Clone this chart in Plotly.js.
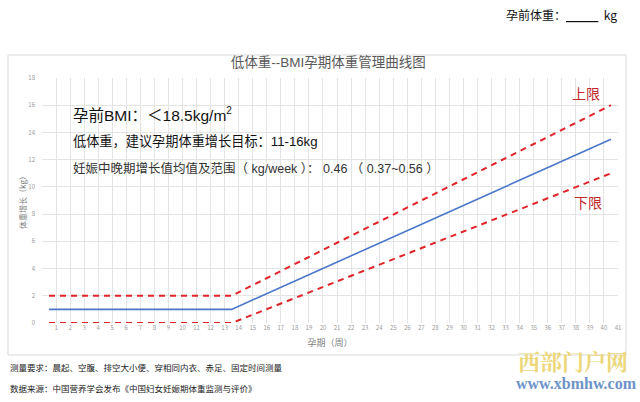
<!DOCTYPE html>
<html>
<head>
<meta charset="utf-8">
<script src="https://cdn.plot.ly/plotly-3.0.1.min.js"></script>
<style>
  html, body { margin: 0; padding: 0; background: #fff; }
  #chart { width: 640px; height: 402px; }
</style>
</head>
<body>
<div id="chart"></div>
<script>
// weeks where the lines bend (start, end of 1st trimester, week 40)
const weeks = [0.5, 13.5, 40.5];
const upperLimit = [2, 2, 16];
const meanGain = [1, 1, 13.5];
const lowerLimit = [0, 0, 11];

const weekTicks = Array.from({length: 42}, (_, i) => i);
const weekLabels = weekTicks.map(w => (w === 0 ? ' ' : String(w)));

const cjk = '"Noto Sans CJK SC", "Noto Sans", sans-serif';
const mixed = '"Liberation Sans", "Noto Sans CJK SC", sans-serif';

// plot area in pixels, used to place the outer frame
const L = 42, R = 618, T = 78, B = 323;
const px = x => (x - L) / (R - L);
const py = y => (B - y) / (B - T);

function note(text, x, y, size, color, family) {
    return {
        text: text,
        xref: 'paper', yref: 'paper', xanchor: 'left', yanchor: 'middle',
        x: px(x), y: py(y), showarrow: false,
        font: {size: size, color: color, family: family || mixed}
    };
}

function plotChart() {
    const red = {width: 2, color: '#e0242a', dash: '6px,5px'};

    const data = [
        {x: weeks, y: upperLimit, mode: 'lines', line: red, hoverinfo: 'skip'},
        {x: weeks, y: meanGain, mode: 'lines', line: {width: 1.6, color: '#4a76c9'}, hoverinfo: 'skip'},
        {x: weeks, y: lowerLimit, mode: 'lines', line: red, hoverinfo: 'skip'}
    ];

    const layout = {
        width: 640,
        height: 402,
        showlegend: false,
        paper_bgcolor: '#fff',
        plot_bgcolor: '#fff',
        margin: {l: L, r: 640 - R, t: T, b: 402 - B},
        font: {family: cjk, color: '#595959'},
        title: {
            text: '低体重--BMI孕期体重管理曲线图',
            x: 0.497,
            xref: 'paper',
            y: 1 - 62 / 402,
            yanchor: 'middle',
            font: {size: 13.5, color: '#595959', family: mixed}
        },
        xaxis: {
            range: [0, 41],
            tickvals: weekTicks,
            ticktext: weekLabels,
            tickangle: 0,
            tickfont: {size: 6, color: '#9a9a9a'},
            gridcolor: '#e4e4e4',
            zeroline: false,
            showline: false,
            fixedrange: true,
            title: {
                text: '孕期（周）',
                standoff: 8,
                font: {size: 9, color: '#7f7f7f', family: cjk}
            }
        },
        yaxis: {
            range: [0, 18],
            dtick: 2,
            tickfont: {size: 6, color: '#9a9a9a'},
            ticklabelstandoff: 6,
            gridcolor: '#e4e4e4',
            zeroline: false,
            showline: false,
            fixedrange: true,
            title: {
                text: '体重增长（kg）',
                standoff: 0,
                font: {size: 8, color: '#7f7f7f', family: cjk}
            }
        },
        shapes: [{
            type: 'rect',
            xref: 'paper', yref: 'paper',
            x0: px(8), x1: px(626), y0: py(355), y1: py(55),
            line: {color: '#d9d9d9', width: 1},
            layer: 'below'
        }],
        annotations: [
            note('孕前体重：<u>            </u>  kg', 504, 14, 12, '#111', cjk),
            note('孕前BMI：＜18.5kg/m<sup><span style="font-size:10px">2</span></sup>', 71, 114, 15.5, '#111'),
            note('低体重，建议孕期体重增长目标：11-16kg', 71, 141, 13.2, '#111'),
            note('妊娠中晚期增长值均值及范围（ kg/week ）： 0.46 （ 0.37~0.56 ）', 71, 168, 12.5, '#333'),
            note('上限', 570, 93, 14, '#c0282d', cjk),
            note('下限', 572, 202, 14, '#c0282d', cjk),
            note('测量要求：晨起、空腹、排空大小便、穿相同内衣、赤足、固定时间测量', 8, 367, 8.5, '#222', cjk),
            note('数据来源：中国营养学会发布《中国妇女妊娠期体重监测与评价》', 8, 388, 8.5, '#222', cjk),
            note('<b>西部门户网</b>', 516, 360, 22, '#ecd77a', '"Noto Serif CJK SC", "Noto Sans CJK SC", serif'),
            note('<b>www.xbmhw.com</b>', 514, 384, 16, '#6d93c8', '"Liberation Serif", serif')
        ]
    };

    Plotly.newPlot('chart', data, layout, {displayModeBar: false, staticPlot: true});
}

plotChart();
</script>
</body>
</html>
